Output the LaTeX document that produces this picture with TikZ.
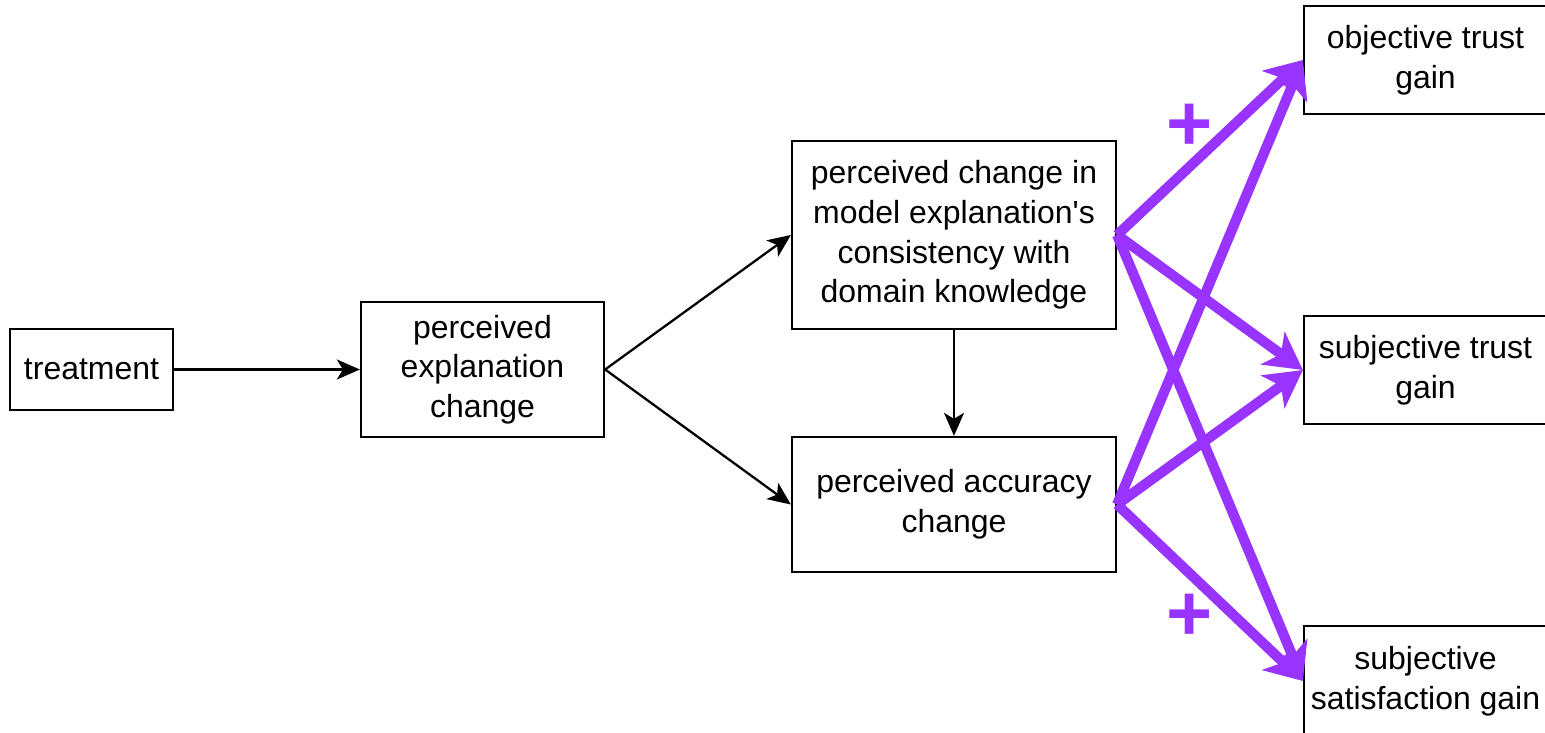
\documentclass[tikz,border=0pt]{standalone}
\usepackage{fontspec}
\newfontfamily\hv{Liberation Sans}
\usetikzlibrary{arrows.meta}
\definecolor{pplus}{HTML}{9933FF}
\tikzset{
  box/.style={draw=black, line width=1.3pt, fill=white, inner sep=0pt, align=center,
    font=\hv\fontsize{18.2}{22.6}\selectfont},
  blk/.style={draw=black, line width=1.3pt, -{Stealth[length=0.46cm, width=0.4cm, inset=0.12cm]}},
  pur/.style={draw=pplus, line width=5.8pt, -{Stealth[length=0.74cm, width=0.8cm, inset=0.2cm]}},
  plus/.style={text=pplus, inner sep=0pt, font=\hv\bfseries\fontsize{45}{45}\selectfont}
}
\begin{document}
\begin{tikzpicture}[x=0.02cm, y=-0.02cm]
\useasboundingbox (0,0) rectangle (1545,733);
\node[box, minimum width=3.26cm, minimum height=1.62cm] (trt) at (91.5,369.5) {treatment};
\node[box, minimum width=4.86cm, minimum height=2.7cm] (pec) at (482.5,369.5) {perceived\\explanation\\change};
\node[box, minimum width=6.48cm, minimum height=3.76cm] (cons) at (954,235) {perceived change in\\model explanation's\\consistency with\\domain knowledge};
\node[box, minimum width=6.48cm, minimum height=2.7cm] (acc) at (954,504.5) {perceived accuracy\\change};
\node[box, minimum width=4.86cm, minimum height=2.16cm] (obj) at (1425.5,60) {objective trust\\gain};
\node[box, minimum width=4.86cm, minimum height=2.16cm] (subj) at (1425.5,370) {subjective trust\\gain};
\node[box, minimum width=4.86cm, minimum height=2.2cm] (sat) at (1425.5,681) {subjective\\satisfaction gain};

\draw[blk] (trt.east) -- (pec.west);
\draw[blk] (pec.east) -- (cons.west);
\draw[blk] (pec.east) -- (acc.west);
\draw[blk] (cons.south) -- (acc.north);

\draw[pur] (cons.east) -- (obj.west);
\draw[pur] (cons.east) -- (subj.west);
\draw[pur] (cons.east) -- (sat.west);
\draw[pur] (acc.east) -- (obj.west);
\draw[pur] (acc.east) -- (subj.west);
\draw[pur] (acc.east) -- (sat.west);

\node[plus] (p1) at (1190,127) {+};
\node[plus] (p2) at (1190,617) {+};
\end{tikzpicture}
\end{document}
